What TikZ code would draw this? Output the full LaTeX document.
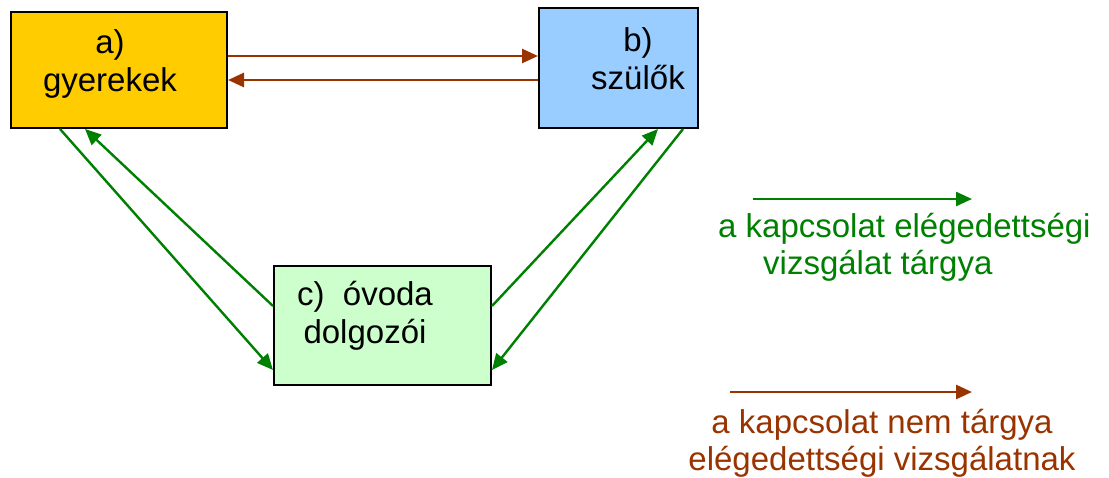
\documentclass[tikz,border=0pt]{standalone}
\usepackage{fontspec}
\setmainfont{Liberation Sans}
\usetikzlibrary{arrows.meta,shapes}
\definecolor{kgreen}{HTML}{008000}
\definecolor{kbrown}{HTML}{993300}
\tikzset{
  box/.style = {rectangle, draw=black, line width=2pt, inner sep=0pt},
  box_a/.style = {box, fill={rgb,255:red,255;green,204;blue,0},
    minimum width=216pt, minimum height=116pt},% gyerekek
  box_b/.style = {box, fill={rgb,255:red,153;green,204;blue,255},
    minimum width=159pt, minimum height=120pt},% szulok
  box_c/.style = {box, fill={rgb,255:red,204;green,255;blue,204},
    minimum width=217pt, minimum height=119pt},% ovoda dolgozoi
  boxtext/.style = {align=center, inner sep=0pt,
    font=\fontsize{33}{38}\selectfont},
  legtext/.style = {inner sep=0pt, font=\fontsize{33}{37}\selectfont},
  rel_g/.style = {kgreen, line width=2.4pt,
    -{Triangle[length=16pt,width=14pt]}},% elegedettsegi vizsgalat targya
  rel_b/.style = {kbrown, line width=2.8pt,
    -{Triangle[length=16pt,width=14pt]}}% nem targya
}
\begin{document}
\begin{tikzpicture}[x=1pt,y=-1pt]
\useasboundingbox (0,0) rectangle (1109,477);
\node [box_a] (a) at (119,70) {};
\node [box_b] (b) at (618.5,68) {};
\node [box_c] (c) at (382.5,325.5) {};
\node [boxtext] at (110,64) {a)\\gyerekek};
\node [boxtext] at (638,59) {b)\\szülők};
\node [boxtext] at (365,316) {c)\ \ óvoda\\dolgozói};
% a <-> b
\draw [rel_b] ([yshift=14pt]a.east) -- ([yshift=12pt]b.west);
\draw [rel_b] ([yshift=-12pt]b.west) -- ([yshift=-10pt]a.east);
% a <-> c
\draw [rel_g] ([xshift=-59pt]a.south) -- ([yshift=-44.5pt]c.west);
\draw [rel_g] ([yshift=19.5pt]c.west) -- ([xshift=-34pt]a.south);
% c <-> b
\draw [rel_g] ([yshift=19.5pt]c.east) -- ([xshift=39.5pt]b.south);
\draw [rel_g] ([xshift=64.5pt]b.south) -- ([yshift=-44.5pt]c.east);
% jelmagyarazat
\coordinate (g1) at (753,199);
\coordinate (g2) at (972,199);
\coordinate (b1) at (730,392);
\coordinate (b2) at (972,392);
\draw [rel_g] (g1) -- (g2);
\draw [rel_b] (b1) -- (b2);
\node [legtext, kgreen, align=left, anchor=north west] (lg) at (718,213)
  {a kapcsolat elégedettségi\\\hspace*{45pt}vizsgálat tárgya};
\node [legtext, kbrown, align=center] (lb) at (882,443)
  {a kapcsolat nem tárgya\\elégedettségi vizsgálatnak};
\end{tikzpicture}
\end{document}
